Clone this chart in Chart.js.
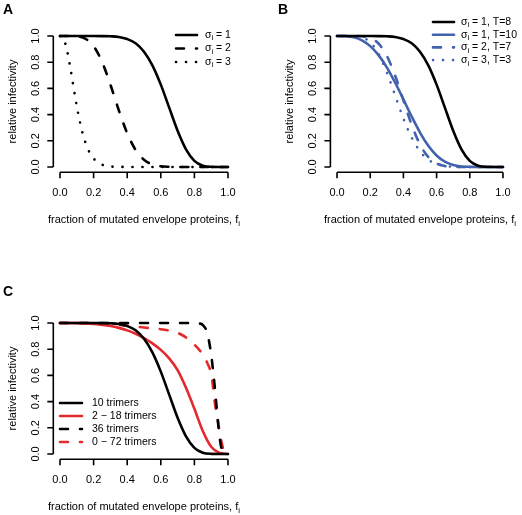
<!DOCTYPE html>
<html>
<head>
<meta charset="utf-8">
<script src="https://cdn.jsdelivr.net/npm/chart.js@4"></script>
<style>
    html, body { margin: 0; padding: 0; background: #fff; }
    body { width: 522px; height: 515px; position: relative; overflow: hidden; }
    canvas { position: absolute; }
</style>
</head>
<body>
<canvas id="chartA" width="261" height="250" style="left:0;top:0"></canvas>
<canvas id="chartB" width="261" height="250" style="left:261px;top:0"></canvas>
<canvas id="chartC" width="261" height="257" style="left:0;top:258px"></canvas>
<script>

// ---- data ----

const fGrid = [0, 0.05, 0.1, 0.15, 0.2, 0.25, 0.3, 0.35, 0.4, 0.45, 0.5,
               0.55, 0.6, 0.65, 0.7, 0.75, 0.8, 0.85, 0.9, 0.95, 1];

const tickValues = [0, 0.2, 0.4, 0.6, 0.8, 1];

// panel A
const sigma1T8 = [1, 1, 1, 1, 1, 0.9995, 0.998, 0.993, 0.977, 0.945, 0.88,
                  0.776, 0.629, 0.453, 0.277, 0.135, 0.047, 0.01, 0.001, 0, 0];
const sigma2T8 = [1, 1, 0.998, 0.981, 0.922, 0.804, 0.629, 0.433, 0.258, 0.13, 0.055,
                  0.019, 0.005, 0.001, 0, 0, 0, 0, 0, 0, 0];
const fDotted = [0, 0.02, 0.04, 0.06, 0.08, 0.1, 0.12, 0.14, 0.16, 0.18, 0.2,
                 0.25, 0.3, 0.35, 0.4, 0.5, 0.6, 0.7, 0.8, 0.9, 1];
const sigma3T8 = [1, 0.982, 0.901, 0.767, 0.613, 0.463, 0.335, 0.233, 0.156, 0.101, 0.064,
                  0.018, 0.004, 0.001, 0, 0, 0, 0, 0, 0, 0];

// panel B
const sigma1T10 = [1, 0.999, 0.99, 0.967, 0.923, 0.854, 0.761, 0.645, 0.516, 0.385, 0.263,
                   0.162, 0.088, 0.04, 0.015, 0.004, 0.001, 0, 0, 0, 0];
const sigma2T7 = [1, 1, 1, 0.998, 0.985, 0.943, 0.849, 0.698, 0.509, 0.321, 0.172,
                  0.076, 0.027, 0.007, 0.001, 0, 0, 0, 0, 0, 0];
const sigma3T3 = [1, 1, 0.999, 0.99, 0.953, 0.865, 0.723, 0.547, 0.371, 0.224, 0.12,
                  0.055, 0.023, 0.008, 0.002, 0, 0, 0, 0, 0, 0];

// panel C
const trimers2to18 = [1, 1, 0.999, 0.997, 0.993, 0.986, 0.977, 0.963, 0.944, 0.918, 0.885,
                      0.845, 0.795, 0.73, 0.64, 0.505, 0.345, 0.175, 0.055, 0.008, 0];
const fTrimers36 = [0, 0.2, 0.4, 0.6, 0.7, 0.75, 0.8, 0.825, 0.85, 0.875, 0.9,
                    0.91, 0.92, 0.93, 0.94, 0.95, 0.96, 0.97, 0.98, 0.99, 1];
const trimers36 = [1, 1, 1, 1, 1, 1, 1, 0.997, 0.985, 0.93, 0.76,
                   0.65, 0.53, 0.39, 0.25, 0.13, 0.05, 0.012, 0.002, 0, 0];
const fTrimers0to72 = [0, 0.1, 0.2, 0.3, 0.4, 0.5, 0.6, 0.7, 0.75, 0.8, 0.85, 0.875,
                       0.9, 0.91, 0.92, 0.93, 0.94, 0.95, 0.96, 0.97, 0.98, 0.99, 1];
const trimers0to72 = [1, 1, 0.998, 0.992, 0.98, 0.966, 0.953, 0.925, 0.89, 0.835, 0.76, 0.7,
                      0.61, 0.52, 0.41, 0.32, 0.25, 0.17, 0.1, 0.045, 0.012, 0.002, 0];

const labelsA = ["σ_i = 1", "σ_i = 2", "σ_i = 3"];
const labelsB = ["σ_i = 1, T=8", "σ_i = 1, T=10", "σ_i = 2, T=7", "σ_i = 3, T=3"];
const labelsC = ["10 trimers", "2 − 18 trimers", "36 trimers", "0 − 72 trimers"];

const yTitle = "relative infectivity";
const xTitle = "fraction of mutated envelope proteins, f_i";

// ---- styles ----

const FONT = "\"Liberation Sans\", Arial, Helvetica, sans-serif";
const BLACK = "#000000";
const BLUE = "#4262ad";
const RED = "#e3292e";
const SOLID = [];
const DASHED = [8, 12];
const DOTTED = [0.1, 9.9];

function points(xs, ys) {
    return xs.map((x, i) => ({ x: x, y: ys[i] }));
}

function lineSet(label, xs, ys, color, dash) {
    return {
        label: label,
        data: points(xs, ys),
        borderColor: color,
        borderWidth: 2.6,
        borderDash: dash,
        borderCapStyle: "round",
        borderJoinStyle: "round",
        pointRadius: 0,
        fill: false,
        cubicInterpolationMode: "monotone"
    };
}

// text with "_x" meaning x is a subscript
function richParts(text) {
    let parts = [];
    let buf = "";
    let i = 0;
    while (i < text.length) {
        if (text[i] === "_") {
            if (buf) parts.push({ t: buf, sub: false });
            buf = "";
            parts.push({ t: text[i + 1], sub: true });
            i += 2;
        }
        else {
            buf += text[i];
            i++;
        }
    }
    if (buf) parts.push({ t: buf, sub: false });
    return parts;
}

function drawRich(ctx, text, x, y, size, align) {
    const parts = richParts(text);
    const fontFor = p => (p.sub ? size * 0.72 : size) + "px " + FONT;
    let width = 0;
    parts.forEach(p => {
        ctx.font = fontFor(p);
        width += ctx.measureText(p.t).width;
    });
    let cx = align === "center" ? x - width / 2 : x;
    ctx.textAlign = "left";
    ctx.textBaseline = "middle";
    parts.forEach(p => {
        ctx.font = fontFor(p);
        ctx.fillText(p.t, cx, p.sub ? y + size * 0.32 : y);
        cx += ctx.measureText(p.t).width;
    });
}

// R-like axes, titles, panel letter and legend
const rStyleAxes = {
    id: "rStyleAxes",
    afterDraw(chart, args, opts) {
        const ctx = chart.ctx;
        const xs = chart.scales.x;
        const ys = chart.scales.y;
        const area = chart.chartArea;
        const first = tickValues[0];
        const last = tickValues[tickValues.length - 1];

        ctx.save();
        ctx.strokeStyle = BLACK;
        ctx.fillStyle = BLACK;
        ctx.lineWidth = 1.6;
        ctx.setLineDash([]);

        // x axis
        ctx.beginPath();
        ctx.moveTo(xs.getPixelForValue(first), area.bottom);
        ctx.lineTo(xs.getPixelForValue(last), area.bottom);
        tickValues.forEach(v => {
            const px = xs.getPixelForValue(v);
            ctx.moveTo(px, area.bottom);
            ctx.lineTo(px, area.bottom + 6);
        });
        // y axis
        ctx.moveTo(area.left, ys.getPixelForValue(first));
        ctx.lineTo(area.left, ys.getPixelForValue(last));
        tickValues.forEach(v => {
            const py = ys.getPixelForValue(v);
            ctx.moveTo(area.left, py);
            ctx.lineTo(area.left - 6, py);
        });
        ctx.stroke();

        // tick labels
        ctx.font = "11px " + FONT;
        ctx.textAlign = "center";
        ctx.textBaseline = "middle";
        tickValues.forEach(v => {
            ctx.fillText(v.toFixed(1), xs.getPixelForValue(v), area.bottom + 21);
        });
        tickValues.forEach(v => {
            ctx.save();
            ctx.translate(area.left - 17.5, ys.getPixelForValue(v));
            ctx.rotate(-Math.PI / 2);
            ctx.fillText(v.toFixed(1), 0, 0);
            ctx.restore();
        });

        // titles
        drawRich(ctx, xTitle, (area.left + area.right) / 2, area.bottom + 48, 11, "center");
        ctx.save();
        ctx.translate(area.left - 40, (area.top + area.bottom) / 2);
        ctx.rotate(-Math.PI / 2);
        drawRich(ctx, yTitle, 0, 0, 11, "center");
        ctx.restore();

        // panel letter
        ctx.font = "bold 14px " + FONT;
        ctx.textAlign = "center";
        ctx.textBaseline = "middle";
        ctx.fillText(opts.letter, opts.letterX, opts.letterY);

        // legend
        const lg = opts.legend;
        chart.data.datasets.forEach((ds, i) => {
            const ly = lg.y + i * lg.step;
            ctx.save();
            ctx.strokeStyle = ds.borderColor;
            ctx.lineWidth = ds.borderWidth;
            ctx.lineCap = "round";
            ctx.setLineDash(ds.borderDash);
            ctx.beginPath();
            ctx.moveTo(lg.x, ly);
            ctx.lineTo(lg.x + lg.len, ly);
            ctx.stroke();
            ctx.restore();
            drawRich(ctx, ds.label, lg.textX, ly, 10.5, "left");
        });

        ctx.restore();
    }
};

function makeChart(id, datasets, padding, panel) {
    return new Chart(document.getElementById(id), {
        type: "line",
        data: { datasets: datasets },
        options: {
            responsive: false,
            animation: false,
            devicePixelRatio: 1,
            layout: { padding: padding },
            scales: {
                x: { type: "linear", min: -0.04, max: 1.04, display: false },
                y: { type: "linear", min: -0.04, max: 1.04, display: false }
            },
            plugins: {
                legend: { display: false },
                tooltip: { enabled: false },
                rStyleAxes: panel
            }
        },
        plugins: [rStyleAxes]
    });
}

makeChart("chartA", [
    lineSet(labelsA[0], fGrid, sigma1T8, BLACK, SOLID),
    lineSet(labelsA[1], fGrid, sigma2T8, BLACK, DASHED),
    lineSet(labelsA[2], fDotted, sigma3T8, BLACK, DOTTED)
], { left: 53.3, right: 26.3, top: 30.8, bottom: 77.8 }, {
    letter: "A", letterX: 8, letterY: 10,
    legend: { x: 176, len: 21, textX: 205, y: 35, step: 13.5 }
});

makeChart("chartB", [
    lineSet(labelsB[0], fGrid, sigma1T8, BLACK, SOLID),
    lineSet(labelsB[1], fGrid, sigma1T10, BLUE, SOLID),
    lineSet(labelsB[2], fGrid, sigma2T7, BLUE, DASHED),
    lineSet(labelsB[3], fGrid, sigma3T3, BLUE, DOTTED)
], { left: 69.4, right: 12.4, top: 30.8, bottom: 77.8 }, {
    letter: "B", letterX: 22, letterY: 10,
    legend: { x: 172, len: 21, textX: 200, y: 22, step: 12.7 }
});

makeChart("chartC", [
    lineSet(labelsC[0], fGrid, sigma1T8, BLACK, SOLID),
    lineSet(labelsC[1], fGrid, trimers2to18, RED, SOLID),
    lineSet(labelsC[2], fTrimers36, trimers36, BLACK, DASHED),
    lineSet(labelsC[3], fTrimers0to72, trimers0to72, RED, DASHED)
], { left: 53.3, right: 26.3, top: 59.8, bottom: 55.8 }, {
    letter: "C", letterX: 8, letterY: 34,
    legend: { x: 60, len: 22, textX: 92, y: 145, step: 13 }
});

</script>
</body>
</html>
